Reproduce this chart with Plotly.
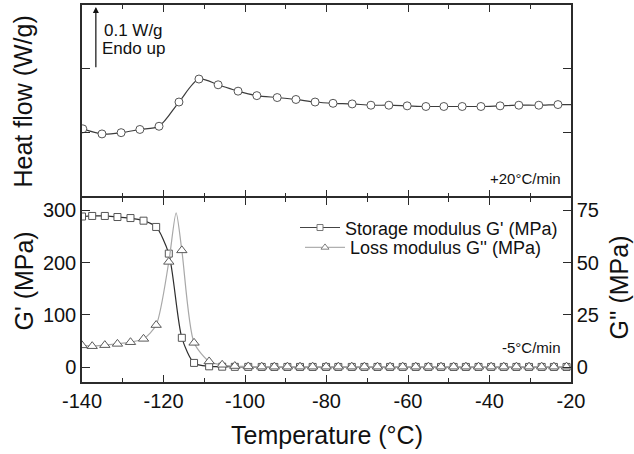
import plotly.graph_objects as go

FONT = "Liberation Sans, Arial, sans-serif"
INK = "#2b2b2b"

# ---------------- data ----------------
# Upper panel: DSC heat flow (W/g, relative), heating +20 C/min
hf_temp = [-139.8, -135.1, -130.4, -125.8, -121.1, -116.2, -111.3, -106.6, -101.7,
           -97.1, -92.1, -87.5, -82.8, -78.4, -73.7, -69.1, -64.7, -60.2, -55.6,
           -51.2, -46.7, -42.1, -37.4, -32.8, -27.9, -23.2]
hf_val = [0.106, 0.098, 0.100, 0.105, 0.110, 0.148, 0.184, 0.175, 0.165,
          0.158, 0.155, 0.152, 0.148, 0.146, 0.145, 0.143, 0.143, 0.142, 0.141,
          0.141, 0.141, 0.141, 0.142, 0.143, 0.143, 0.144]
hf_end_temp = -20.0
hf_end_val = 0.144

# Lower panel: DMA, cooling -5 C/min
mod_temp = [-140.0, -137.5, -134.4, -131.3, -128.1, -124.9, -121.8, -118.7, -115.5,
            -112.5, -108.8, -105.6, -102.5, -99.2, -95.9, -92.8, -89.6, -86.5,
            -83.4, -80.1, -77.1, -73.8, -70.7, -67.5, -64.4, -61.3, -58.1, -55.0,
            -51.9, -48.8, -45.8, -42.7, -39.6, -36.5, -33.4, -30.3, -27.2, -24.2, -21.1]
storage_mpa = [288, 289, 289, 287, 285, 280, 268, 217, 56,
               8, 1.5, 0.8, 0.5, 0.4, 0.3, 0.3, 0.3, 0.3,
               0.3, 0.3, 0.3, 0.3, 0.3, 0.3, 0.3, 0.3, 0.3, 0.3,
               0.3, 0.3, 0.3, 0.3, 0.3, 0.3, 0.3, 0.3, 0.3, 0.3, 0.3]
loss_mpa = [10.4, 10.0, 10.5, 11.1, 11.9, 13.5, 20.1, 50.3, 55.8,
            11.6, 2.7, 1.1, 0.5, 0.3, 0.2, 0.2, 0.2, 0.2,
            0.2, 0.2, 0.2, 0.2, 0.2, 0.2, 0.2, 0.2, 0.2, 0.2,
            0.2, 0.2, 0.2, 0.2, 0.2, 0.2, 0.2, 0.2, 0.2, 0.2, 0.2]
loss_peak_temp = -116.9
loss_peak_mpa = 73.7
mod_end_temp = -20.0

x_ticks = [-140, -120, -100, -80, -60, -40, -20]
x_tick_labels = ["-140", "-120", "-100", "-80", "-60", "-40", "-20"]
g1_ticks = [0, 100, 200, 300]
g2_ticks = [0, 25, 50, 75]
hf_ticks = [0.1, 0.2]
scale_bar = 0.1  # W/g

# ---------------- derived line arrays ----------------
hf_line_x = hf_temp + [hf_end_temp]
hf_line_y = hf_val + [hf_end_val]
st_line_x = mod_temp + [mod_end_temp]
st_line_y = storage_mpa + [storage_mpa[-1]]
pairs = sorted(list(zip(mod_temp, loss_mpa)) + [(loss_peak_temp, loss_peak_mpa),
                                                (mod_end_temp, loss_mpa[-1])])
ls_line_x = [p[0] for p in pairs]
ls_line_y = [p[1] for p in pairs]

fig = go.Figure()

# upper panel
fig.add_trace(go.Scatter(x=hf_line_x, y=hf_line_y, xaxis="x2", yaxis="y3", mode="lines",
                         line=dict(color="#3c3c3c", width=1.2, shape="spline", smoothing=0.8),
                         showlegend=False, hoverinfo="skip"))
fig.add_trace(go.Scatter(x=hf_temp, y=hf_val, xaxis="x2", yaxis="y3", mode="markers",
                         marker=dict(symbol="circle", size=8, color="white",
                                     line=dict(color="#555555", width=1)),
                         showlegend=False))

# lower panel - storage modulus
fig.add_trace(go.Scatter(x=st_line_x, y=st_line_y, xaxis="x", yaxis="y", mode="lines",
                         line=dict(color="#2e2e2e", width=1.2, shape="spline", smoothing=0.7),
                         showlegend=False, hoverinfo="skip"))
fig.add_trace(go.Scatter(x=mod_temp, y=storage_mpa, xaxis="x", yaxis="y", mode="markers",
                         marker=dict(symbol="square", size=7, color="white",
                                     line=dict(color="#555555", width=1)),
                         showlegend=False))
# lower panel - loss modulus
fig.add_trace(go.Scatter(x=ls_line_x, y=ls_line_y, xaxis="x", yaxis="y2", mode="lines",
                         line=dict(color="#a8a8a8", width=1.2, shape="spline", smoothing=0.7),
                         showlegend=False, hoverinfo="skip"))
fig.add_trace(go.Scatter(x=mod_temp, y=loss_mpa, xaxis="x", yaxis="y2", mode="markers",
                         marker=dict(symbol="triangle-up", size=9, color="white",
                                     line=dict(color="#5a5a5a", width=1)),
                         showlegend=False))

# legend entries (one legend each, to control spacing)
fig.add_trace(go.Scatter(x=[None], y=[None], xaxis="x", yaxis="y", mode="lines+markers",
                         name="Storage modulus G' (MPa)", legend="legend",
                         line=dict(color="#444444", width=1.2),
                         marker=dict(symbol="square", size=6, color="white",
                                     line=dict(color="#777777", width=1))))
fig.add_trace(go.Scatter(x=[None], y=[None], xaxis="x", yaxis="y2", mode="lines+markers",
                         name="Loss modulus G'' (MPa)", legend="legend2",
                         line=dict(color="#b0b0b0", width=1.2),
                         marker=dict(symbol="triangle-up", size=7, color="white",
                                     line=dict(color="#808080", width=1))))

W, H = 634, 454
L, R, T, B = 82, 63, 3, 72
LW = 1.5
ph = H - T - B
split = (382 - 197) / ph
gap = LW / ph

def px_x(p):
    return (p - L) / (W - L - R)

def px_y(p):
    return (H - B - p) / ph

axis_common = dict(showline=True, linecolor=INK, linewidth=LW, ticks="inside",
                   tickcolor=INK, tickwidth=1.3, showgrid=False, zeroline=False,
                   tickfont=dict(family=FONT, size=20, color="#111"))

legend_common = dict(xanchor="left", yanchor="middle", bgcolor="rgba(0,0,0,0)",
                     font=dict(family=FONT, size=18, color="#111"), itemwidth=40)

fig.update_layout(
    width=W, height=H,
    margin=dict(l=L, r=R, t=T, b=B),
    paper_bgcolor="white", plot_bgcolor="white",
    font=dict(family=FONT, color="#111"),
    showlegend=True,
    legend=dict(x=px_x(295), y=px_y(227), **legend_common),
    legend2=dict(x=px_x(300), y=px_y(247), **legend_common),
    xaxis=dict(domain=[0, 1], anchor="y", range=[-140, -20], tickvals=x_ticks,
               ticktext=x_tick_labels, ticklen=7, mirror="ticks",
               minor=dict(ticks="inside", ticklen=4, dtick=10, tick0=-140, tickcolor=INK),
               **axis_common),
    xaxis2=dict(domain=[0, 1], anchor="y3", range=[-140, -20], tickvals=x_ticks,
                matches="x", ticklen=7, mirror="ticks", showticklabels=False,
                minor=dict(ticks="inside", ticklen=4, dtick=10, tick0=-140, tickcolor=INK),
                **axis_common),
    yaxis=dict(domain=[0, split], anchor="x", range=[-28.5, 323.4], tickvals=g1_ticks,
               ticklen=8, **axis_common),
    yaxis2=dict(overlaying="y", side="right", anchor="x", range=[-28.5 / 4, 323.4 / 4],
                tickvals=g2_ticks, ticklen=8, **axis_common),
    yaxis3=dict(domain=[split + gap, 1], anchor="x2", range=[0, 0.3], tickvals=hf_ticks,
                ticklen=8, mirror="ticks", showticklabels=False, **axis_common),
)

ann = []
# axis titles
ann.append(dict(text="Temperature (°C)", xref="paper", yref="paper", x=0.5, y=px_y(435),
                xanchor="center", yanchor="middle", showarrow=False,
                font=dict(family=FONT, size=25, color="#111")))
ann.append(dict(text="Heat flow (W/g)", xref="paper", yref="paper", x=px_x(23), y=px_y(100),
                xanchor="center", yanchor="middle", textangle=-90, showarrow=False,
                font=dict(family=FONT, size=25, color="#111")))
ann.append(dict(text="G' (MPa)", xref="paper", yref="paper", x=px_x(24), y=px_y(281),
                xanchor="center", yanchor="middle", textangle=-90, showarrow=False,
                font=dict(family=FONT, size=25, color="#111")))
ann.append(dict(text="G'' (MPa)", xref="paper", yref="paper", x=px_x(619), y=px_y(287),
                xanchor="center", yanchor="middle", textangle=-90, showarrow=False,
                font=dict(family=FONT, size=25, color="#111")))
# scale arrow
ann.append(dict(text="", xref="x2", yref="y3", axref="x2", ayref="y3",
                x=-136.6, y=0.2 + scale_bar * 0.97, ax=-136.6, ay=0.2,
                showarrow=True, arrowhead=2, arrowsize=1, arrowwidth=1.2, arrowcolor="#111"))
ann.append(dict(text="0.1 W/g", xref="paper", yref="paper", x=px_x(102), y=px_y(29),
                xanchor="left", yanchor="middle", showarrow=False,
                font=dict(family=FONT, size=17, color="#111")))
ann.append(dict(text="Endo up", xref="paper", yref="paper", x=px_x(100), y=px_y(47),
                xanchor="left", yanchor="middle", showarrow=False,
                font=dict(family=FONT, size=17, color="#111")))
ann.append(dict(text="+20°C/min", xref="paper", yref="paper", x=px_x(563), y=px_y(177),
                xanchor="right", yanchor="middle", showarrow=False,
                font=dict(family=FONT, size=15, color="#111")))
ann.append(dict(text="-5°C/min", xref="paper", yref="paper", x=px_x(563), y=px_y(347),
                xanchor="right", yanchor="middle", showarrow=False,
                font=dict(family=FONT, size=15, color="#111")))
fig.update_layout(annotations=ann)

fig.write_html("out.html", config={"displayModeBar": False},
               post_script="document.body.style.margin='0';document.body.style.padding='0';")
